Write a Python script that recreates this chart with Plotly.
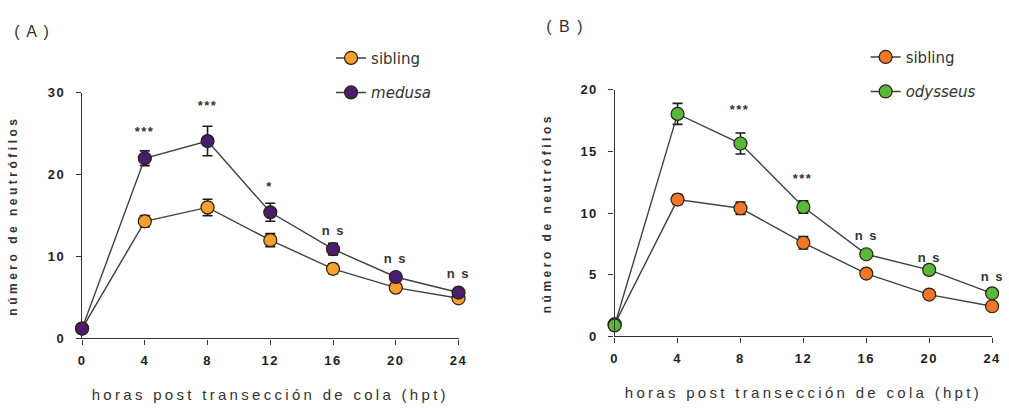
import plotly.graph_objects as go

hpt = [0, 4, 8, 12, 16, 20, 24]
x_ticks = [0, 4, 8, 12, 16, 20, 24]

# Panel A
sib_a = [1.2, 14.3, 16.0, 12.0, 8.5, 6.2, 4.9]
sib_a_err = [0.2, 0.7, 1.0, 0.8, 0.6, 0.3, 0.3]
med_a = [1.2, 22.0, 24.1, 15.4, 10.9, 7.5, 5.6]
med_a_err = [0.2, 0.9, 1.8, 1.1, 0.7, 0.3, 0.3]
sig_a = ["***", "***", "*", "n s", "n s", "n s"]
sig_a_x = [4, 8, 12, 16, 20, 24]
sig_a_y = [25.3, 28.5, 18.6, 13.2, 9.7, 7.9]
y_ticks_a = [0, 10, 20, 30]

# Panel B
sib_b = [1.0, 11.1, 10.4, 7.6, 5.1, 3.4, 2.45]
sib_b_err = [0.15, 0.4, 0.5, 0.5, 0.2, 0.15, 0.15]
ody_b = [0.9, 18.05, 15.65, 10.5, 6.67, 5.4, 3.5]
ody_b_err = [0.15, 0.85, 0.85, 0.5, 0.2, 0.2, 0.15]
sig_b = ["***", "***", "***", "n s", "n s", "n s"]
sig_b_x = [4, 8, 12, 16, 20, 24]
sig_b_y = [20.7, 18.4, 12.8, 8.2, 6.4, 4.9]
y_ticks_b = [0, 5, 10, 15, 20]

W, H = 1009, 410
LINE = "#404040"
EDGE = "#2b1d12"

def px_x(p):
    return p / W

def px_y(p):
    return 1 - p / H

fig = go.Figure()

def add_series(x, y, err, color, name, xa, ya, legend, group):
    fig.add_trace(go.Scatter(
        x=x, y=y, mode="lines+markers", name=name,
        xaxis=xa, yaxis=ya, legend=legend, legendgroup=group,
        line=dict(color=LINE, width=1.4),
        marker=dict(size=13, color=color, line=dict(color=EDGE, width=1.2)),
        error_y=dict(type="data", array=err, visible=True, color="#1a1a1a",
                     thickness=1.6, width=5),
        cliponaxis=False,
    ))

add_series(hpt, sib_a, sib_a_err, "#F6A02E", "sibling", "x", "y", "legend", "a1")
add_series(hpt, med_a, med_a_err, "#4A1D6C", "<i>medusa</i>", "x", "y", "legend", "a2")
add_series(hpt, sib_b, sib_b_err, "#F07628", "sibling", "x2", "y2", "legend2", "b1")
add_series(hpt, ody_b, ody_b_err, "#58B838", "<i>odysseus</i>", "x2", "y2", "legend2", "b2")

axis_common = dict(
    showline=True, linecolor="#333", linewidth=1.4,
    ticks="outside", ticklen=5, tickwidth=1.4, tickcolor="#333",
    showgrid=False, zeroline=False,
    tickfont=dict(family="Liberation Sans, Arial", size=13, color="#222", weight="bold"),
)

title_font = dict(family="Liberation Sans, Arial", size=12, color="#333", weight="bold")
xtitle_font = dict(family="Liberation Sans, Arial", size=15, color="#333")
legend_font = dict(family="DejaVu Sans", size=15, color="#333")

fig.update_layout(
    width=W, height=H,
    margin=dict(l=0, r=0, t=0, b=0),
    paper_bgcolor="white", plot_bgcolor="white",
    showlegend=True,
    xaxis=dict(**axis_common, domain=[px_x(79), px_x(460)], range=[0, 24],
               tickvals=x_ticks, anchor="y", ticklabelstandoff=5,
               title=dict(text="horas post transección de cola (hpt)", font=xtitle_font, standoff=22)),
    yaxis=dict(**axis_common, domain=[px_y(344), px_y(89)], range=[0, 30],
               tickvals=y_ticks_a, anchor="x", ticklabelstandoff=8,
               title=dict(text="número de neutrófilos", font=title_font, standoff=30)),
    xaxis2=dict(**axis_common, domain=[px_x(618), px_x(1000)], range=[0, 24],
                tickvals=x_ticks, anchor="y2", ticklabelstandoff=5,
                title=dict(text="horas post transección de cola (hpt)", font=xtitle_font, standoff=22)),
    yaxis2=dict(**axis_common, domain=[px_y(342), px_y(86)], range=[0, 20],
                tickvals=y_ticks_b, anchor="x2", ticklabelstandoff=8,
                title=dict(text="número de neutrófilos", font=title_font, standoff=29)),
    legend=dict(x=px_x(331), y=px_y(36), xanchor="left", yanchor="top",
                font=legend_font, tracegroupgap=12, bgcolor="rgba(0,0,0,0)",
                traceorder="grouped"),
    legend2=dict(x=px_x(872), y=px_y(35), xanchor="left", yanchor="top",
                 font=legend_font, tracegroupgap=12, bgcolor="rgba(0,0,0,0)",
                 traceorder="grouped"),
)

sig_font = dict(family="Liberation Sans, Arial", size=13, color="#333", weight="bold")
for t, xx, yy in zip(sig_a, sig_a_x, sig_a_y):
    fig.add_annotation(x=xx, y=yy, xref="x", yref="y", text=t, showarrow=False,
                       font=sig_font, yanchor="middle")
for t, xx, yy in zip(sig_b, sig_b_x, sig_b_y):
    fig.add_annotation(x=xx, y=yy, xref="x2", yref="y2", text=t, showarrow=False,
                       font=sig_font, yanchor="middle")

panel_font = dict(family="Liberation Sans, Arial", size=16, color="#333")
fig.add_annotation(x=px_x(12), y=px_y(25), xref="paper", yref="paper", text="( A )",
                   showarrow=False, xanchor="left", yanchor="middle", font=panel_font)
fig.add_annotation(x=px_x(551), y=px_y(20), xref="paper", yref="paper", text="( B )",
                   showarrow=False, xanchor="left", yanchor="middle", font=panel_font)

post = """
document.documentElement.style.margin = '0';
document.documentElement.style.overflow = 'hidden';
document.body.style.margin = '0';
document.body.style.padding = '0';
document.body.style.overflow = 'hidden';
document.body.style.height = '410px';
var st = document.createElement('style');
st.textContent = '.xtitle, .x2title {letter-spacing: 3.3px;} .ytitle, .y2title {letter-spacing: 3.5px;} .annotation-text {letter-spacing: 1.5px;} .xtick text, .x2tick text, .ytick text, .y2tick text {letter-spacing: 1.5px;}';
document.head.appendChild(st);
"""

fig.write_html("out.html", post_script=post, config={"displayModeBar": False})
